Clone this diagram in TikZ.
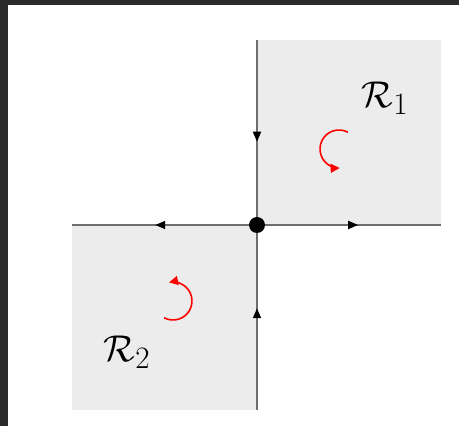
\documentclass[tikz,border=0pt]{standalone}
\usetikzlibrary{arrows.meta,decorations.markings}
\definecolor{frame}{HTML}{2B2B2B}
\definecolor{regfill}{HTML}{ECECEC}
\definecolor{axis}{HTML}{6E6E6E}
\tikzset{
  axisline/.style={draw=axis,line width=1.8pt},
  midarrow/.style={postaction={decorate},decoration={markings,
      mark=at position #1 with {\arrow[black]{Triangle[length=10pt,width=8pt]}}}},
  rot/.style={draw=red,line width=1.6pt,-{Triangle[length=9pt,width=9pt]}},
  lab/.style={font=\fontsize{24.88}{30}\selectfont,inner sep=0pt,scale=1.5}
}
\begin{document}
\begin{tikzpicture}[x=1pt,y=1pt]
\useasboundingbox (0,0) rectangle (459,426);
\fill[white] (0,0) rectangle (459,426);
\fill[frame] (0,0) rectangle (8,426);
\fill[frame] (0,421) rectangle (459,426);
% regions
\fill[regfill] (257,201) rectangle (441,386);
\fill[regfill] (72,16) rectangle (257,201);
% coordinates
\coordinate (O) at (257,201);
\coordinate (T) at (257,386);
\coordinate (B) at (257,16);
\coordinate (L) at (72,201);
\coordinate (R) at (441,201);
\draw[axisline,midarrow=0.55] (T) -- (O);
\draw[axisline,midarrow=0.55] (B) -- (O);
\draw[axisline,midarrow=0.55] (O) -- (L);
\draw[axisline,midarrow=0.55] (O) -- (R);
\fill[black] (O) circle (8);
% rotation arrows
\draw[rot] (339,277) ++(62:19) arc[start angle=62,end angle=272,radius=19];
\draw[rot] (173,125) ++(-118:19) arc[start angle=-118,end angle=102,radius=19];
% labels
\node[lab] (r1) at (385,328) {$\mathcal{R}_1$};
\node[lab] (r2) at (127,74) {$\mathcal{R}_2$};
\end{tikzpicture}
\end{document}
